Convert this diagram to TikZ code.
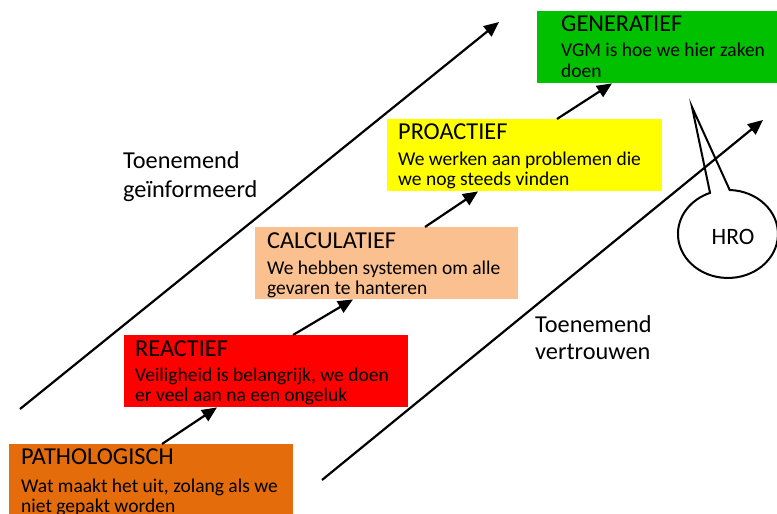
\documentclass[tikz,border=0pt]{standalone}
\usepackage{fontspec}
\setmainfont{Carlito}
\usetikzlibrary{arrows.meta}
\definecolor{cpath}{RGB}{228,108,10}
\definecolor{creact}{RGB}{255,0,0}
\definecolor{ccalc}{RGB}{250,192,144}
\definecolor{cpro}{RGB}{255,255,0}
\definecolor{cgen}{RGB}{0,192,0}
\begin{document}
\begin{tikzpicture}[x=1pt,y=1pt,
  levelbox/.style={rectangle, draw=none, inner sep=0pt, anchor=north west, minimum height=72pt},
  ttl/.style={anchor=base west, inner sep=0pt, font=\fontsize{24.3}{29}\selectfont},
  txt/.style={anchor=base west, inner sep=0pt, font=\fontsize{19.5}{20}\selectfont},
  lbl/.style={anchor=base west, inner sep=0pt, font=\fontsize{24.3}{29}\selectfont},
  steparrow/.style={line width=2.2pt, -{Triangle[length=15pt,width=13pt]}},
  bubble/.style={line width=2pt, draw=black, fill=white, line join=miter}
]
\useasboundingbox (0,0) rectangle (777,514);
\clip (0,0) rectangle (777,514);

% boxes
\node[levelbox, fill=cpath, minimum width=284pt, minimum height=100pt] (path) at (9,70) {};
\node[levelbox, fill=creact, minimum width=284pt] (react) at (124,179) {};
\node[levelbox, fill=ccalc, minimum width=263pt] (calc) at (255,287) {};
\node[levelbox, fill=cpro, minimum width=275pt] (pro) at (387,395) {};
\node[levelbox, fill=cgen, minimum width=245pt] (gen) at (537,503) {};

% texts
\node[ttl] (pathT) at (21,49) {PATHOLOGISCH};
\node[txt] (pathA) at (21,21.5) {Wat maakt het uit, zolang als we};
\node[txt] (pathB) at (21,1) {niet gepakt worden};

\node[ttl] (reactT) at (135,157) {REACTIEF};
\node[txt] (reactA) at (135,132) {Veiligheid is belangrijk, we doen};
\node[txt] (reactB) at (135,112) {er veel aan na een ongeluk};

\node[ttl] (calcT) at (267,265) {CALCULATIEF};
\node[txt] (calcA) at (267,239) {We hebben systemen om alle};
\node[txt] (calcB) at (267,219) {gevaren te hanteren};

\node[ttl] (proT) at (398,374) {PROACTIEF};
\node[txt] (proA) at (398,348) {We werken aan problemen die};
\node[txt] (proB) at (398,328) {we nog steeds vinden};

\node[ttl] (genT) at (561,482) {GENERATIEF};
\node[txt] (genA) at (561,457) {VGM is hoe we hier zaken};
\node[txt] (genB) at (561,436) {doen};

% step arrows
\draw[steparrow] ([xshift=153pt]path.north west) -- ([xshift=93pt]react.south west);
\draw[steparrow] ([xshift=169pt]react.north west) -- ([xshift=98pt]calc.south west);
\draw[steparrow] ([xshift=170pt]calc.north west) -- ([xshift=91pt]pro.south west);
\draw[steparrow] ([xshift=170pt]pro.north west) -- ([xshift=75pt]gen.south west);

% speech bubble
\draw[bubble] (692,407) -- (729.7,324.0) arc[start angle=88, end angle=-249, x radius=50, y radius=44] -- cycle;
\node[inner sep=0pt, font=\fontsize{23.5}{28}\selectfont] (hro) at (733,277) {HRO};

% long arrows
\coordinate (la) at (20,105);
\coordinate (lb) at (499,492);
\coordinate (ra) at (322,34);
\coordinate (rb) at (763,394);
\draw[steparrow] (la) -- (lb);
\draw[steparrow] (ra) -- (rb);

% labels
\node[lbl] (lblA) at (123,345) {Toenemend};
\node[lbl] (lblB) at (123,316) {geïnformeerd};
\node[lbl] (lblC) at (535,181) {Toenemend};
\node[lbl] (lblD) at (535,154) {vertrouwen};
\end{tikzpicture}
\end{document}
